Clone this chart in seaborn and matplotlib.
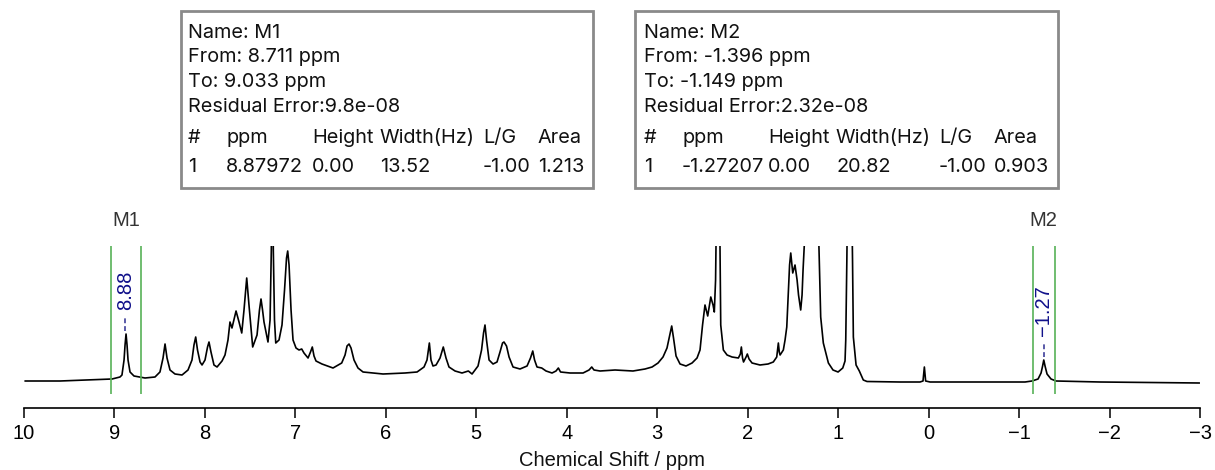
import numpy as np
import pandas as pd
import matplotlib
matplotlib.use('Agg')
import matplotlib.pyplot as plt
from matplotlib.patches import Rectangle
import seaborn as sns

# ---------------- data ----------------
spec_ppm = [
    9.989, 9.602, 9.160, 9.027, 8.939, 8.917, 8.894, 8.883, 8.872, 8.861, 8.850, 8.828,
    8.784, 8.662, 8.552, 8.497, 8.463, 8.441, 8.419, 8.386, 8.331, 8.253, 8.187, 8.143,
    8.121, 8.102, 8.082, 8.054, 8.032, 7.999, 7.971, 7.955, 7.933, 7.900, 7.866, 7.811,
    7.778, 7.745, 7.723, 7.701, 7.656, 7.623, 7.593, 7.568, 7.538, 7.513, 7.472, 7.424,
    7.397, 7.380, 7.363, 7.347, 7.325, 7.303, 7.280, 7.266, 7.255, 7.244, 7.231, 7.217,
    7.181, 7.148, 7.120, 7.098, 7.085, 7.070, 7.048, 7.026, 6.993, 6.960, 6.930, 6.905,
    6.860, 6.833, 6.813, 6.794, 6.772, 6.706, 6.584, 6.488, 6.451, 6.429, 6.407, 6.385,
    6.352, 6.308, 6.252, 6.031, 5.788, 5.655, 5.578, 5.545, 5.519, 5.501, 5.479, 5.445,
    5.401, 5.365, 5.335, 5.302, 5.235, 5.158, 5.088, 5.047, 4.981, 4.942, 4.920, 4.904,
    4.887, 4.859, 4.815, 4.771, 4.738, 4.710, 4.694, 4.666, 4.638, 4.594, 4.517, 4.439,
    4.401, 4.376, 4.356, 4.329, 4.277, 4.229, 4.163, 4.119, 4.093, 4.069, 3.964, 3.820,
    3.754, 3.724, 3.699, 3.632, 3.466, 3.268, 3.135, 3.057, 2.991, 2.936, 2.892, 2.864,
    2.840, 2.820, 2.792, 2.748, 2.682, 2.615, 2.560, 2.527, 2.499, 2.472, 2.442, 2.408,
    2.383, 2.369, 2.355, 2.344, 2.328, 2.311, 2.298, 2.269, 2.228, 2.173, 2.103, 2.081,
    2.070, 2.057, 2.046, 2.018, 2.004, 1.985, 1.952, 1.864, 1.775, 1.717, 1.679, 1.670,
    1.661, 1.651, 1.642, 1.606, 1.587, 1.568, 1.554, 1.537, 1.524, 1.502, 1.477, 1.454,
    1.438, 1.414, 1.399, 1.388, 1.372, 1.344, 1.294, 1.244, 1.214, 1.193, 1.164, 1.108,
    1.057, 1.001, 0.949, 0.924, 0.916, 0.904, 0.894, 0.874, 0.852, 0.841, 0.832, 0.802,
    0.766, 0.747, 0.722, 0.681, 0.316, 0.095, 0.062, 0.047, 0.033, -0.016, -0.790, -1.066,
    -1.143, -1.210, -1.243, -1.260, -1.273, -1.287, -1.309, -1.353, -1.409, -1.895, -2.448, -2.995,
]
spec_int = [
    0, 0, 1.5, 2, 4, 6, 21, 36, 47, 36, 21, 9,
    5, 3, 4, 9, 23, 37, 23, 11, 7, 6, 11, 21,
    36, 44, 31, 19, 16, 21, 34, 39, 29, 16, 14, 20,
    26, 41, 59, 53, 70, 59, 48, 71, 103, 76, 34, 46,
    71, 82, 71, 59, 49, 39, 61, 131, 261, 131, 61, 38,
    41, 56, 91, 123, 130, 116, 71, 41, 33, 31, 32, 28,
    23, 29, 34, 25, 20, 17, 13, 18, 26, 35, 37, 33,
    21, 13, 9, 7, 8, 9, 14, 21, 38, 21, 15, 16,
    23, 34, 23, 14, 10, 8, 10, 7, 15, 31, 48, 56,
    41, 21, 17, 19, 29, 38, 39, 35, 24, 14, 12, 15,
    23, 30, 21, 14, 13, 10, 8, 10, 13, 9, 8, 8,
    11, 14, 11, 10, 11, 10, 12, 14, 18, 24, 33, 45,
    55, 43, 25, 17, 15, 18, 23, 31, 56, 76, 65, 84,
    76, 69, 101, 181, 281, 181, 56, 31, 26, 24, 23, 27,
    34, 23, 19, 24, 27, 22, 18, 16, 17, 19, 24, 31,
    38, 29, 26, 31, 41, 54, 81, 116, 128, 108, 116, 101,
    86, 71, 86, 111, 140, 300, 420, 300, 140, 64, 38, 18,
    11, 9, 13, 20, 41, 120, 200, 350, 200, 120, 44, 16,
    10, 6, 1, -0.5, -1, -1, 0, 14, 0, -1, -1, -1,
    0, 2, 8, 15, 21, 15, 7, 2, 0, -1, -1.5, -2,
]

region_names = ['M1', 'M2']
region_from = [8.711, -1.396]
region_to = [9.033, -1.149]
residual_error = ['9.8e-08', '2.32e-08']
fit_ppm = ['8.87972', '-1.27207']
fit_height = ['0.00', '0.00']
fit_width_hz = ['13.52', '20.82']
fit_lg = ['-1.00', '-1.00']
fit_area = ['1.213', '0.903']
peak_label_ppm = [8.88, -1.27]
peak_label_text = ['8.88', '\u22121.27']
peak_top_int = [47, 21]
table_header = ['#', 'ppm', 'Height', 'Width(Hz)', 'L/G', 'Area']
x_ticks = list(range(10, -4, -1))

# ---------------- figure ----------------
W, H = 1215, 470
sns.set_style('ticks')
plt.rcParams['font.family'] = ['Liberation Sans', 'DejaVu Sans']

fig = plt.figure(figsize=(W / 100, H / 100), dpi=100)
ax = fig.add_axes([24 / W, (H - 408) / H, 1176 / W, 162 / H])

df = pd.DataFrame({'ppm': spec_ppm, 'intensity': spec_int})
sns.lineplot(data=df, x='ppm', y='intensity', estimator=None, sort=False,
             color='black', lw=1.2, ax=ax)

ax.set_xlim(10, -3)
ax.set_ylim(-27, 135)
ax.set_xticks(x_ticks)
ax.set_yticks([])
ax.set_ylabel('')
for s in ['left', 'top', 'right']:
    ax.spines[s].set_visible(False)
ax.spines['bottom'].set_linewidth(1.2)
ax.spines['bottom'].set_color('black')
ax.tick_params(axis='x', direction='out', length=7.5, width=1.1, pad=4,
               labelsize=14.5, colors='black')
ax.set_xlabel('Chemical Shift / ppm', fontsize=14.5, labelpad=6, color='#111111')

# integration regions
green = '#58b158'
navy = '#10108a'
for i, name in enumerate(region_names):
    ax.vlines([region_from[i], region_to[i]], -13, 135, color=green, lw=1.2, clip_on=False)
    mid = 0.5 * (region_from[i] + region_to[i])
    ax.text(mid, 160, name, ha='center', va='center', fontsize=14.5,
            color='#333333', clip_on=False)
    p = peak_label_ppm[i]
    top = peak_top_int[i]
    ax.plot([p, p], [top + 3, top + 18], ls=(0, (2.5, 1.5)), color='#5a5aa8', lw=1.4)
    ax.text(p, top + 24, peak_label_text[i], rotation=90, ha='center', va='bottom',
            fontsize=14.5, color=navy)

# info boxes
box_x = [(180.5, 592.7), (635, 1058)]
text_x = [188, 644]
col_off = [0, 38, 124, 192, 295, 350]
line_y = [32.5, 57.5, 82, 106.5]
head_y, row_y = 138, 167
fs = 14.3
box_font = ['Inter', 'DejaVu Sans']

def fx(x):
    return x / W

def fy(y):
    return 1 - y / H

for i in range(len(region_names)):
    x0, x1 = box_x[i]
    rect = Rectangle((fx(x0), fy(188)), fx(x1 - x0), (188 - 10.7) / H,
                     transform=fig.transFigure, facecolor='white',
                     edgecolor='#8a8a8a', lw=2.0, zorder=1)
    fig.patches.append(rect)
    lines = [f'Name: {region_names[i]}',
             f'From: {region_from[i]:.3f} ppm',
             f'To: {region_to[i]:.3f} ppm',
             f'Residual Error:{residual_error[i]}']
    for txt, y in zip(lines, line_y):
        fig.text(fx(text_x[i]), fy(y), txt, ha='left', va='center', fontsize=fs,
                 color='#111111', family=box_font)
    row = ['1', fit_ppm[i], fit_height[i], fit_width_hz[i], fit_lg[i], fit_area[i]]
    for off, h, r in zip(col_off, table_header, row):
        fig.text(fx(text_x[i] + off), fy(head_y), h, ha='left', va='center',
                 fontsize=fs, color='#111111', family=box_font)
        fig.text(fx(text_x[i] + off), fy(row_y), r, ha='left', va='center',
                 fontsize=fs, color='#111111', family=box_font)

fig.savefig('out.png', dpi=100)
